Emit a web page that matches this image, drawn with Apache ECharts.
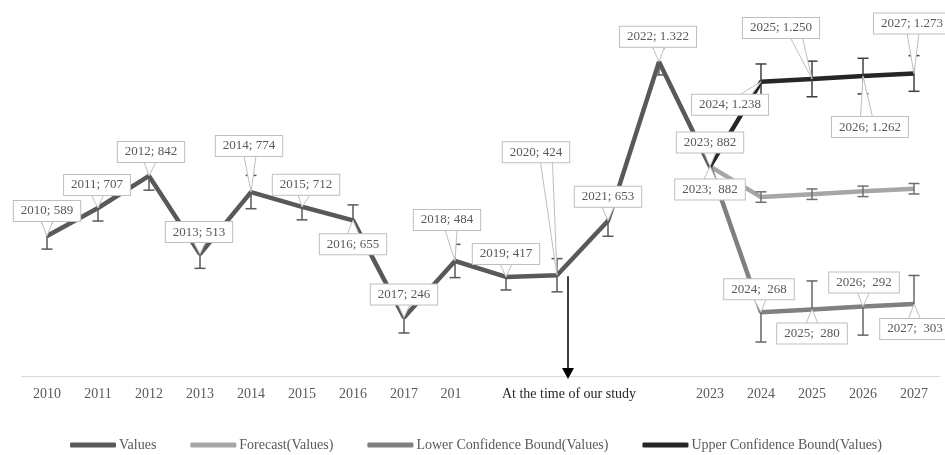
<!DOCTYPE html>
<html><head><meta charset="utf-8">
<script src="https://cdn.jsdelivr.net/npm/echarts@6/dist/echarts.min.js"></script>
<style>html,body{margin:0;padding:0;background:#fff}#c{width:945px;height:455px}</style>
</head><body><div id="c"></div>
<script>
// ---------- data ----------
const years = ['2010','2011','2012','2013','2014','2015','2016','2017','2018','2019','2020','2021','2022','2023','2024','2025','2026','2027'];
const xTickLabels = ['2010','2011','2012','2013','2014','2015','2016','2017','201','','At the time of our study','','','2023','2024','2025','2026','2027'];
const valuesData = [589,707,842,513,774,712,655,246,484,417,424,653,1322,882];      // 2010-2023
const forecastData = [882,753,765,777,788];   // 2023-2027
const lowerData = [882,268,280,292,303];      // 2023-2027
const upperData = [882,1238,1250,1262,1273];  // 2023-2027
const valuesErr = [55,55,60,60,70,55,65,65,70,55,70,65,55,50];
const forecastErr = [0,22,22,22,22];
const lowerErr = [0,125,120,120,120];
const upperErr = [0,75,75,75,75];
const studyIndex = 10; // 2020

// ---------- layout (label offsets in px, relative to the point) ----------
const valuesLabelOffset = [[0,-25],[-1,-23],[2,-24],[-1,-22],[-2,-46],[4,-22],[0,24],[0,-23],[-8,-41],[0,-23],[-21,-123],[0,-24],[-1,-25],[0,-24]];
const lowerLabelOffset = [[0,23],[-2,-23],[0,24],[1,-24],[1,25]];
const upperLabelOffset = [null,[-31,23],[-31,-51],[7,51],[-2,-50]];

const FONT = "'Liberation Serif','Times New Roman',serif";
const C_VAL = '#595959', C_FC = '#a6a6a6', C_LOW = '#808080', C_UP = '#262626';

const nFc = years.length - forecastData.length; // 13
function pad(arr, start){ const out = new Array(years.length).fill(null); arr.forEach((v,k)=>{out[start+k]=v;}); return out; }
function fmt(v){ return v >= 1000 ? Math.floor(v/1000) + '.' + String(v%1000).padStart(3,'0') : String(v); }

function errData(arr, errs, start){ const d=[]; arr.forEach((v,k)=>{ if(errs[k]>0) d.push([start+k, v, errs[k]]); }); return d; }

const labelMeta = [];
valuesData.forEach((v,k)=>{ labelMeta.push({i:k, v, text: years[k] + '; ' + fmt(v), off: valuesLabelOffset[k]}); });
lowerData.forEach((v,k)=>{ labelMeta.push({i:nFc+k, v, text: years[nFc+k] + ';  ' + fmt(v), off: lowerLabelOffset[k]}); });
upperData.forEach((v,k)=>{ if(upperLabelOffset[k]) labelMeta.push({i:nFc+k, v, text: years[nFc+k] + '; ' + fmt(v), off: upperLabelOffset[k]}); });

function errSeries(name, data, color){
  return { type:'custom', name: name + '_err', z: 3, silent: true, data,
    renderItem(params, api){
      const x = api.value(0), v = api.value(1), e = api.value(2);
      const t = api.coord([x, v+e]), b = api.coord([x, v-e]);
      const st = { stroke: color, lineWidth: 1.5 };
      return { type:'group', children:[
        {type:'line', shape:{x1:t[0],y1:t[1],x2:b[0],y2:b[1]}, style:st},
        {type:'line', shape:{x1:t[0]-5.5,y1:t[1],x2:t[0]+5.5,y2:t[1]}, style:st},
        {type:'line', shape:{x1:b[0]-5.5,y1:b[1],x2:b[0]+5.5,y2:b[1]}, style:st}
      ]};
    }
  };
}

const option = {
  animation: false,
  backgroundColor: '#fff',
  grid: { left: 21.5, right: 5.5, top: 43.3, bottom: 79, containLabel: false },
  xAxis: {
    type: 'category', data: years, boundaryGap: true,
    axisLine: { lineStyle: { color: '#d9d9d9', width: 1 } },
    axisTick: { show: false },
    axisLabel: {
      interval: 0, margin: 11, color: '#595959', fontSize: 14, fontFamily: FONT,
      formatter: (v, i) => {
        const t = xTickLabels[i];
        if (i === studyIndex) return '{s|' + t + '}';
        if (t === '201') return '{t|' + t + '}';
        return t;
      },
      rich: {
        s: { padding: [0,0,0,24], color: '#262626', fontSize: 14, fontFamily: FONT },
        t: { padding: [0,8,0,0], color: '#595959', fontSize: 14, fontFamily: FONT }
      }
    }
  },
  yAxis: { type: 'value', show: false, min: 0, max: 1400, splitLine: { show: false } },
  legend: {
    data: ['Values','Forecast(Values)','Lower Confidence Bound(Values)','Upper Confidence Bound(Values)'],
    left: 65, top: 433, icon: 'roundRect', itemWidth: 46, itemHeight: 5, itemGap: 34,
    textStyle: { color: '#595959', fontSize: 14, fontFamily: FONT, padding: [0,0,0,-2] }
  },
  series: [
    { type:'line', name:'Values', data: pad(valuesData, 0), symbol:'none', z: 2,
      lineStyle:{ color: C_VAL, width: 4.5 }, itemStyle:{ color: C_VAL } },
    { type:'line', name:'Forecast(Values)', data: pad(forecastData, nFc), symbol:'none', z: 2,
      lineStyle:{ color: C_FC, width: 4.5 }, itemStyle:{ color: C_FC } },
    { type:'line', name:'Lower Confidence Bound(Values)', data: pad(lowerData, nFc), symbol:'none', z: 2,
      lineStyle:{ color: C_LOW, width: 4.5 }, itemStyle:{ color: C_LOW } },
    { type:'line', name:'Upper Confidence Bound(Values)', data: pad(upperData, nFc), symbol:'none', z: 2,
      lineStyle:{ color: C_UP, width: 4.5 }, itemStyle:{ color: C_UP } },
    errSeries('Values', errData(valuesData, valuesErr, 0), '#595959'),
    errSeries('Forecast', errData(forecastData, forecastErr, nFc), '#6f6f6f'),
    errSeries('Lower', errData(lowerData, lowerErr, nFc), '#666666'),
    errSeries('Upper', errData(upperData, upperErr, nFc), '#404040'),
    { type:'custom', name:'arrow', z: 4, silent: true, data: [[studyIndex, valuesData[studyIndex]]],
      renderItem(params, api){
        const p = api.coord([api.value(0), api.value(1)]);
        const b = api.coord([api.value(0), 0]);
        const x = p[0] + 11;
        return { type:'group', children:[
          {type:'line', shape:{x1:x, y1:p[1]+1, x2:x, y2:b[1]-6}, style:{stroke:'#000', lineWidth:1.5}},
          {type:'polygon', shape:{points:[[x-6,b[1]-8],[x+6,b[1]-8],[x,b[1]+3]]}, style:{fill:'#000'}}
        ]};
      }
    },
    { type:'custom', name:'labels', z: 10, silent: true, data: labelMeta.map(m => [m.i, m.v]),
      renderItem(params, api){
        const m = labelMeta[params.dataIndex];
        const p = api.coord([api.value(0), api.value(1)]);
        const bx = p[0] + m.off[0], by = p[1] + m.off[1];
        const halfH = 11, halfW = 34;
        const edgeY = m.off[1] < 0 ? by + halfH - 1 : by - halfH + 1;
        let cx = bx + (p[0] - bx) * 0.5;
        cx = Math.max(bx - halfW + 9, Math.min(bx + halfW - 9, cx));
        return { type:'group', children:[
          {type:'polygon', shape:{points:[[cx-6, edgeY],[p[0], p[1]],[cx+6, edgeY]]},
            style:{fill:'#fff', stroke:'#bfbfbf', lineWidth:1}},
          {type:'text', x: bx, y: by, style:{
            text: m.text, fill: '#595959', font: '13px ' + FONT,
            align: 'center', verticalAlign: 'middle',
            backgroundColor: '#fff', borderColor: '#bfbfbf', borderWidth: 1, padding: [4,7,3,7]
          }}
        ]};
      }
    }
  ]
};

const chart = echarts.init(document.getElementById('c'), null, { renderer: 'canvas' });
chart.setOption(option);
</script>
</body></html>
